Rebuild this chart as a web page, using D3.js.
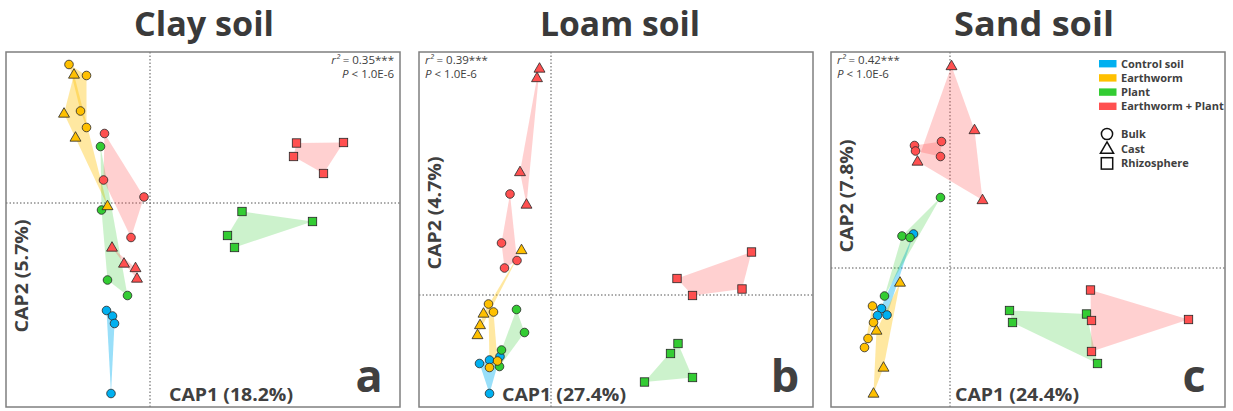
<!DOCTYPE html>
<meta charset="utf-8">
<html>
<head>
  <title>CAP ordination</title>
  <script src="https://d3js.org/d3.v7.min.js"></script>
  <style>
    body { margin: 0; background: #fff; font-family: "Open Sans", "DejaVu Sans", sans-serif; }
    svg { display: block; }
    text { fill: #404040; }
  </style>
</head>
<body>
<div id="chart"></div>
<script>
  // legend / group labels
  var treatments = ["Control soil", "Earthworm", "Plant", "Earthworm + Plant"];
  var compartments = ["Bulk", "Cast", "Rhizosphere"];
  var treatColors = ["#00b0f0", "#ffc000", "#33cc33", "#ff5050"];
  var panelTitles = ["Clay soil", "Loam soil", "Sand soil"];
  var panelLetters = ["a", "b", "c"];
  var cap1Labels = ["CAP1 (18.2%)", "CAP1 (27.4%)", "CAP1 (24.4%)"];
  var cap2Labels = ["CAP2 (5.7%)", "CAP2 (4.7%)", "CAP2 (7.8%)"];
  var rSquared = ["0.35***", "0.39***", "0.42***"];
  var pValues = ["1.0E-6", "1.0E-6", "1.0E-6"];

  // sample design (same order in every soil): treatment index, compartment index
  var sampleTreat = [0,0,0,0, 1,1,1,1, 1,1,1,1, 2,2,2,2, 2,2,2,2, 3,3,3,3, 3,3,3,3, 3,3,3,3];
  var sampleComp  = [0,0,0,0, 0,0,0,0, 1,1,1,1, 0,0,0,0, 2,2,2,2, 0,0,0,0, 1,1,1,1, 2,2,2,2];

  // ordination scores
  var clayCap1 = [-0.87,-0.75,-0.71,-0.78, -1.62,-1.27,-1.39,-1.27, -1.52,-1.72,-1.49,-0.85,
                  -0.99,-0.97,-0.85,-0.45, 1.84,3.25,1.55,1.69, -0.91,-0.93,-0.12,-0.38,
                  -0.76,-0.52,-0.29,-0.26, 2.93,3.87,2.87,3.47];
  var clayCap2 = [-2.15,-2.26,-2.41,-3.81, 2.77,2.55,1.84,1.51, 2.57,1.79,1.31,-0.06,
                  1.13,-0.14,-1.54,-1.85, -0.17,-0.37,-0.65,-0.89, 1.39,0.46,0.12,-0.69,
                  -0.89,-1.21,-1.30,-1.51, 1.20,1.21,0.93,0.59];
  var loamCap1 = [-1.43,-1.23,-1.02,-1.23, -1.25,-1.15,-1.23,-1.07, -0.59,-1.35,-1.42,-1.47,
                  -0.69,-0.53,-0.99,-1.03, 2.54,2.39,2.83,1.87, -0.82,-0.99,-0.68,-0.93,
                  -0.23,-0.28,-0.62,-0.49, 4.01,2.52,3.82,2.83];
  var loamCap2 = [-1.37,-1.30,-1.23,-1.97, -0.18,-0.34,-1.45,-1.32, 0.90,-0.37,-0.60,-0.80,
                  -0.29,-0.75,-1.10,-1.43, -0.97,-1.17,-1.65,-1.74, 2.02,1.04,0.69,0.54,
                  4.53,4.34,2.46,1.81, 0.86,0.33,0.12,-0.01];
  var sandCap1 = [-0.73,-1.37,-1.45,-1.26, -1.55,-1.53,-1.64,-1.71, -1.00,-1.47,-1.33,-1.53,
                  -0.19,-0.96,-0.80,-1.31, 1.19,1.25,2.73,2.95, -0.71,-0.69,-0.17,-0.19,
                  0.03,0.49,0.65,-0.65, 2.81,2.83,4.77,2.83];
  var sandCap2 = [0.68,-0.81,-0.95,-0.94, -0.76,-1.09,-1.41,-1.59, -0.29,-1.25,-1.99,-2.51,
                  1.41,0.64,0.61,-0.56, -0.85,-1.09,-0.92,-1.91, 2.45,2.34,2.53,2.23,
                  4.04,2.76,1.36,2.13, -0.44,-1.05,-1.03,-1.67];

  var width = 1233, height = 411;
  var top0 = 52, bottom0 = 407;

  var panels = [
    {x0: 6,   x1: 400,  xd: [-2.88, 5.0],  yd: [-4.08, 3.02], cap1: clayCap1, cap2: clayCap2,
     titleX: 204, ylabY: 276, ylabX: 28, xlabX: 169, letterX: 369, statRight: true, statX: 394},
    {x0: 419, x1: 813,  xd: [-2.64, 5.24], yd: [-2.24, 4.86], cap1: loamCap1, cap2: loamCap2,
     titleX: 620, ylabY: 213, ylabX: 441, xlabX: 502, letterX: 785, statRight: false, statX: 425},
    {x0: 831, x1: 1225, xd: [-2.38, 5.5],  yd: [-2.78, 4.32], cap1: sandCap1, cap2: sandCap2,
     titleX: 1034, ylabY: 196, ylabX: 853, xlabX: 955, letterX: 1194, statRight: false, statX: 837}
  ];

  var svg = d3.select("#chart").append("svg")
      .attr("width", width)
      .attr("height", height);

  var hullOpacity = [0.4, 0.37, 0.25, 0.27];

  function drawMarker(g, comp, x, y, fill) {
    if (comp == 0) {
      g.append("circle").attr("cx", x).attr("cy", y).attr("r", 4.3)
        .attr("fill", fill).attr("stroke", "#262626").attr("stroke-width", 0.8);
    } else if (comp == 1) {
      g.append("path")
        .attr("d", d3.symbol().type(d3.symbolTriangle).size(52)())
        .attr("transform", "translate(" + x + "," + (y + 0.5) + ")")
        .attr("fill", fill).attr("stroke", "#262626").attr("stroke-width", 0.8);
    } else {
      g.append("rect").attr("x", x - 4.2).attr("y", y - 4.2)
        .attr("width", 8.4).attr("height", 8.4)
        .attr("fill", fill).attr("stroke", "#262626").attr("stroke-width", 0.8);
    }
  }

  panels.forEach(function(p, i) {
    var x = d3.scaleLinear().domain(p.xd).range([p.x0, p.x1]);
    var y = d3.scaleLinear().domain(p.yd).range([bottom0, top0]);
    var g = svg.append("g");

    // title
    g.append("text")
      .attr("x", p.titleX).attr("y", 36)
      .attr("text-anchor", "middle")
      .style("font-size", "34px").style("font-weight", "bold")
      .style("fill", "#3a3a3a")
      .attr("textLength", i == 0 ? 140 : 160).attr("lengthAdjust", "spacingAndGlyphs")
      .text(panelTitles[i]);

    // origin lines
    g.append("line")
      .attr("x1", x(0)).attr("x2", x(0)).attr("y1", top0).attr("y2", bottom0)
      .attr("stroke", "#555").attr("stroke-width", 1).attr("stroke-dasharray", "1.5,2");
    g.append("line")
      .attr("x1", p.x0).attr("x2", p.x1).attr("y1", y(0)).attr("y2", y(0))
      .attr("stroke", "#555").attr("stroke-width", 1).attr("stroke-dasharray", "1.5,2");

    // hulls per treatment x compartment
    var groups = d3.groups(d3.range(sampleTreat.length), function(k) {
      return sampleTreat[k] + "-" + sampleComp[k];
    });
    groups.forEach(function(gr) {
      var t = sampleTreat[gr[1][0]];
      var pts = gr[1].map(function(k) { return [x(p.cap1[k]), y(p.cap2[k])]; });
      var hull = d3.polygonHull(pts);
      if (hull) {
        g.append("path")
          .attr("d", "M" + hull.join("L") + "Z")
          .attr("fill", treatColors[t])
          .attr("fill-opacity", hullOpacity[t]);
      }
    });

    // points: control, plant, earthworm, earthworm + plant
    var order = [0, 2, 1, 3];
    order.forEach(function(t) {
      d3.range(sampleTreat.length).forEach(function(k) {
        if (sampleTreat[k] != t) return;
        drawMarker(g, sampleComp[k], x(p.cap1[k]), y(p.cap2[k]), treatColors[t]);
      });
    });

    // frame
    g.append("rect")
      .attr("x", p.x0).attr("y", top0)
      .attr("width", p.x1 - p.x0).attr("height", bottom0 - top0)
      .attr("fill", "none").attr("stroke", "#7f7f7f").attr("stroke-width", 1.5);

    // axis labels
    g.append("text")
      .attr("transform", "translate(" + p.ylabX + "," + p.ylabY + ") rotate(-90)")
      .attr("text-anchor", "middle")
      .style("font-size", "18px").style("font-weight", "bold")
      .attr("textLength", 113).attr("lengthAdjust", "spacingAndGlyphs")
      .text(cap2Labels[i]);
    g.append("text")
      .attr("x", p.xlabX).attr("y", 401)
      .style("font-size", "18px").style("font-weight", "bold")
      .attr("textLength", 124).attr("lengthAdjust", "spacingAndGlyphs")
      .text(cap1Labels[i]);

    // panel letter
    g.append("text")
      .attr("x", p.letterX).attr("y", 392)
      .attr("text-anchor", "middle")
      .style("font-size", "45px").style("font-weight", "bold")
      .text(panelLetters[i]);

    // statistics
    var anchor = p.statRight ? "end" : "start";
    var s1 = g.append("text")
      .attr("x", p.statX).attr("y", 63.5)
      .attr("text-anchor", anchor)
      .style("font-size", "11.5px");
    s1.append("tspan").style("font-style", "italic").text("r\u00b2");
    s1.append("tspan").text(" = " + rSquared[i]);
    var s2 = g.append("text")
      .attr("x", p.statX).attr("y", 78)
      .attr("text-anchor", anchor)
      .style("font-size", "11.5px");
    s2.append("tspan").style("font-style", "italic").text("P");
    s2.append("tspan").text(" < " + pValues[i]);
  });

  // legend (in sand panel)
  var leg = svg.append("g");
  treatments.forEach(function(t, i) {
    var ly = 63.7 + i * 14.2;
    leg.append("rect")
      .attr("x", 1099).attr("y", ly - 3.7)
      .attr("width", 17.5).attr("height", 7.4)
      .attr("fill", treatColors[i]);
    leg.append("text")
      .attr("x", 1121).attr("y", ly + 4)
      .style("font-size", "11px").style("font-weight", "bold")
      .text(t);
  });
  compartments.forEach(function(c, i) {
    var ly = 134 + i * 14.7;
    if (i == 0) {
      leg.append("circle").attr("cx", 1107).attr("cy", ly).attr("r", 5.6)
        .attr("fill", "none").attr("stroke", "#111").attr("stroke-width", 1.5);
    } else if (i == 1) {
      leg.append("path")
        .attr("d", d3.symbol().type(d3.symbolTriangle).size(75)())
        .attr("transform", "translate(1107," + (ly + 0.8) + ")")
        .attr("fill", "none").attr("stroke", "#111").attr("stroke-width", 1.5);
    } else {
      leg.append("rect").attr("x", 1101.3).attr("y", ly - 5.7)
        .attr("width", 11.4).attr("height", 11.4)
        .attr("fill", "none").attr("stroke", "#111").attr("stroke-width", 1.5);
    }
    leg.append("text")
      .attr("x", 1121).attr("y", ly + 4)
      .style("font-size", "11px").style("font-weight", "bold")
      .text(c);
  });
</script>
</body>
</html>
